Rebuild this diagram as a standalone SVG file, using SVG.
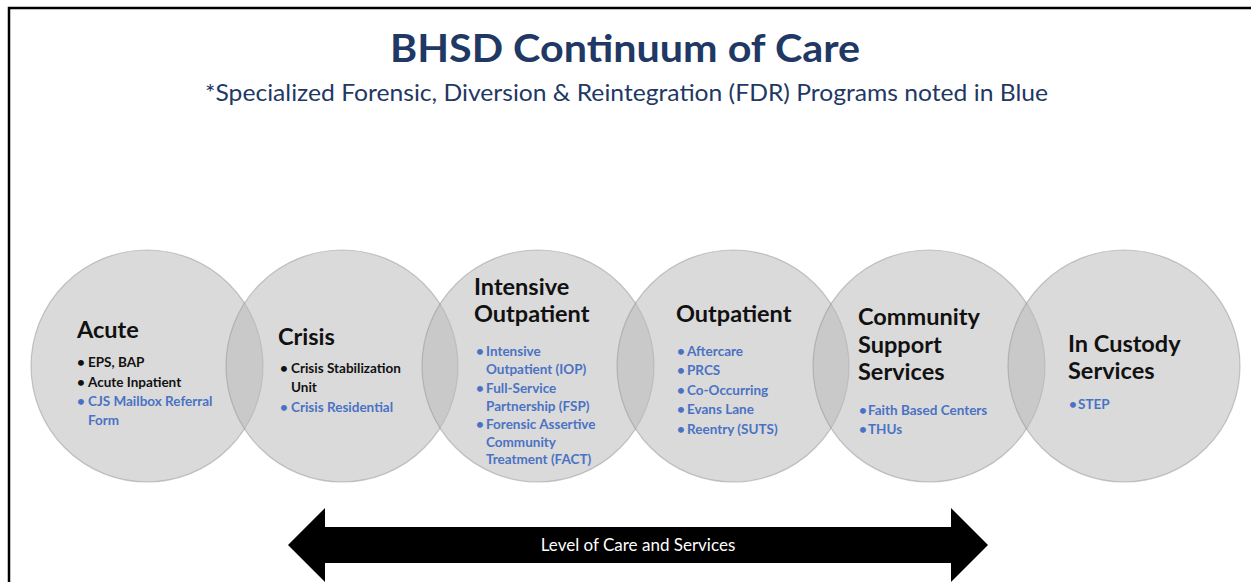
<svg xmlns="http://www.w3.org/2000/svg" width="1251" height="582" viewBox="0 0 1251 582">
  <defs>
    <style>
      .frame { fill: none; stroke: #000; stroke-width: 2.5; }
      .title { font-family: Lato, "Open Sans", "Liberation Sans", sans-serif; font-weight: 700; font-size: 38px; fill: #1f3864; }
      .subtitle { font-family: Lato, "Open Sans", "Liberation Sans", sans-serif; font-size: 23px; fill: #1f3864; }
      .ring { fill: #bcbcbc; fill-opacity: 0.55; stroke: #8c8c8c; stroke-opacity: 0.45; stroke-width: 1.2; }
      .head { font-family: Lato, "Open Sans", "Liberation Sans", sans-serif; font-weight: 700; font-size: 23.5px; fill: #111; }
      .item { font-family: Lato, "Open Sans", "Liberation Sans", sans-serif; font-weight: 700; font-size: 13.5px; fill: #111; }
      .item.blue { fill: #4a72c4; }
      .bar { fill: #000; }
      .bar-label { font-family: Lato, "Open Sans", "Liberation Sans", sans-serif; font-size: 17px; fill: #fff; text-anchor: middle; }
    </style>
  </defs>

  <rect width="1251" height="582" fill="#fff"/>
  <!-- page frame: only the top and left edges fall inside the canvas -->
  <path class="frame" d="M9,582 V8 H1251"/>

  <g id="heading">
    <text class="title" x="390" y="62" textLength="470" lengthAdjust="spacingAndGlyphs">BHSD Continuum of Care</text>
    <text class="subtitle" x="205" y="101" textLength="843" lengthAdjust="spacingAndGlyphs">*Specialized Forensic, Diversion &amp; Reintegration (FDR) Programs noted in Blue</text>
  </g>

  <g id="node-acute">
    <circle class="ring" cx="147" cy="366" r="116"/>
    <text class="head" x="77" y="338">Acute</text>
    <text class="item" x="77" y="367">• <tspan x="88">EPS, BAP</tspan></text>
    <text class="item" x="77" y="387">• <tspan x="88">Acute Inpatient</tspan></text>
    <text class="item blue" x="77" y="406">• <tspan x="88">CJS Mailbox Referral</tspan></text>
    <text class="item blue" x="88" y="425">Form</text>
  </g>

  <g id="node-crisis">
    <circle class="ring" cx="342" cy="366" r="116"/>
    <text class="head" x="278" y="345">Crisis</text>
    <text class="item" x="280" y="373">• <tspan x="291">Crisis Stabilization</tspan></text>
    <text class="item" x="291" y="392">Unit</text>
    <text class="item blue" x="280" y="412">• <tspan x="291">Crisis Residential</tspan></text>
  </g>

  <g id="node-intensive-outpatient">
    <circle class="ring" cx="538" cy="366" r="116"/>
    <text class="head" x="474" y="295">Intensive</text>
    <text class="head" x="474" y="322">Outpatient</text>
    <text class="item blue" x="476" y="356">• <tspan x="486">Intensive</tspan></text>
    <text class="item blue" x="486" y="374">Outpatient (IOP)</text>
    <text class="item blue" x="476" y="393">• <tspan x="486">Full-Service</tspan></text>
    <text class="item blue" x="486" y="411">Partnership (FSP)</text>
    <text class="item blue" x="476" y="429">• <tspan x="486">Forensic Assertive</tspan></text>
    <text class="item blue" x="486" y="447">Community</text>
    <text class="item blue" x="486" y="464">Treatment (FACT)</text>
  </g>

  <g id="node-outpatient">
    <circle class="ring" cx="733" cy="366" r="116"/>
    <text class="head" x="676" y="322">Outpatient</text>
    <text class="item blue" x="677" y="356">• <tspan x="687">Aftercare</tspan></text>
    <text class="item blue" x="677" y="375">• <tspan x="687">PRCS</tspan></text>
    <text class="item blue" x="677" y="395">• <tspan x="687">Co-Occurring</tspan></text>
    <text class="item blue" x="677" y="414">• <tspan x="687">Evans Lane</tspan></text>
    <text class="item blue" x="677" y="434">• <tspan x="687">Reentry (SUTS)</tspan></text>
  </g>

  <g id="node-community-support">
    <circle class="ring" cx="929" cy="366" r="116"/>
    <text class="head" x="858" y="325">Community</text>
    <text class="head" x="858" y="353">Support</text>
    <text class="head" x="858" y="380">Services</text>
    <text class="item blue" x="859" y="415">• <tspan x="868">Faith Based Centers</tspan></text>
    <text class="item blue" x="859" y="434">• <tspan x="868">THUs</tspan></text>
  </g>

  <g id="node-in-custody">
    <circle class="ring" cx="1124" cy="366" r="116"/>
    <text class="head" x="1068" y="352">In Custody</text>
    <text class="head" x="1068" y="379">Services</text>
    <text class="item blue" x="1069" y="409">• <tspan x="1078">STEP</tspan></text>
  </g>

  <g id="connectors">
    <!-- two-headed scale bar under the circles -->
    <path class="bar" d="M288,545 L325,508 V527 H951 V508 L988,545 L951,582 V563 H325 V582 Z"/>
    <text class="bar-label" x="638" y="551">Level of Care and Services</text>
  </g>
</svg>
